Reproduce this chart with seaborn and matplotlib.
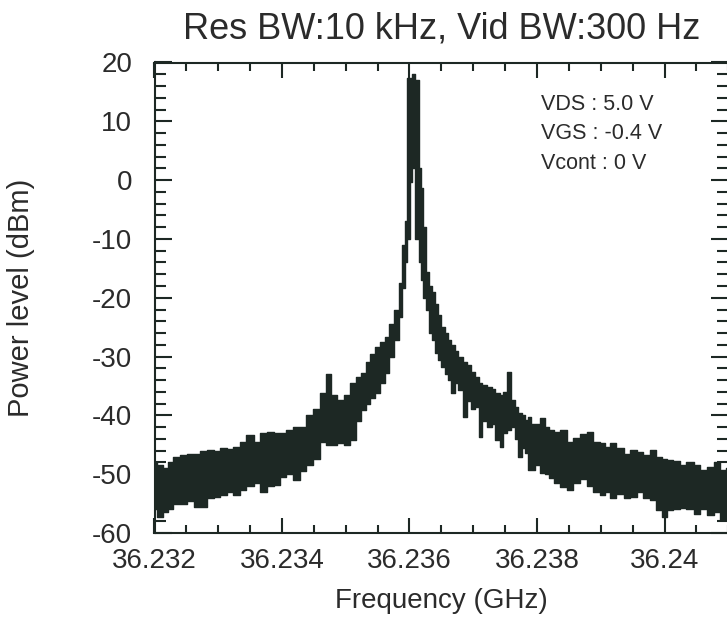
import matplotlib
matplotlib.use("Agg")
import matplotlib.pyplot as plt
import matplotlib.ticker as mticker
import seaborn as sns
import pandas as pd

# Spectrum trace:
# upper and lower edge of the noisy band at each sweep point
freq_ghz = [
    36.232000, 36.232086, 36.232165, 36.232243, 36.232353, 36.232447, 36.232557, 36.232667,
    36.232761, 36.232871, 36.232980, 36.233075, 36.233184, 36.233294, 36.233388, 36.233498,
    36.233608, 36.233702, 36.233812, 36.233922, 36.234016, 36.234125, 36.234235, 36.234329,
    36.234439, 36.234549, 36.234643, 36.234722, 36.234800, 36.234910, 36.235020, 36.235114,
    36.235192, 36.235271, 36.235349, 36.235427, 36.235490, 36.235569, 36.235647, 36.235725,
    36.235804, 36.235851, 36.235906, 36.235945, 36.235984, 36.236024, 36.236063, 36.236118,
    36.236165, 36.236196, 36.236235, 36.236275, 36.236322, 36.236369, 36.236431, 36.236478,
    36.236525, 36.236588, 36.236635, 36.236682, 36.236745, 36.236792, 36.236871, 36.236933,
    36.236996, 36.237059, 36.237106, 36.237184, 36.237263, 36.237310, 36.237373, 36.237451,
    36.237498, 36.237561, 36.237623, 36.237686, 36.237733, 36.237796, 36.237843, 36.237890,
    36.237937, 36.238000, 36.238094, 36.238157, 36.238204, 36.238314, 36.238408, 36.238518,
    36.238627, 36.238722, 36.238831, 36.238941, 36.239035, 36.239098, 36.239192, 36.239302,
    36.239412, 36.239506, 36.239616, 36.239725, 36.239820, 36.239929, 36.240008, 36.240086,
    36.240196, 36.240290, 36.240400, 36.240510, 36.240604, 36.240714, 36.240824, 36.240918,
    36.241000,
]
level_hi = [
    -48.0, -48.5, -49.0, -48.0, -47.0, -46.8, -46.5, -46.5,
    -46.0, -45.9, -46.0, -45.5, -45.8, -45.4, -44.5, -43.4,
    -44.5, -43.0, -42.8, -43.0, -43.0, -42.5, -42.0, -42.0,
    -40.0, -39.0, -36.2, -33.0, -36.5, -37.4, -36.5, -34.5,
    -33.5, -32.8, -31.0, -29.5, -28.4, -27.5, -26.7, -24.5,
    -22.1, -17.5, -11.0, -7.0, 17.4, 17.4, 18.0, 17.0,
    2.0, -1.4, -8.0, -15.6, -18.0, -19.0, -21.0, -23.0,
    -25.0, -26.0, -27.2, -28.0, -29.0, -30.0, -31.0, -31.5,
    -32.6, -33.5, -34.5, -34.8, -35.2, -35.5, -36.2, -36.5,
    -36.0, -32.7, -37.4, -38.5, -39.6, -40.0, -40.8, -40.3,
    -41.4, -41.5, -40.5, -42.0, -42.5, -42.8, -42.5, -44.5,
    -43.8, -43.2, -42.8, -44.5, -44.7, -45.4, -44.7, -45.6,
    -46.5, -45.9, -46.2, -46.8, -45.9, -47.0, -47.5, -47.6,
    -47.8, -48.5, -48.0, -48.5, -49.3, -48.8, -47.9, -49.3,
    -49.0,
]
level_lo = [
    -56.0, -57.3, -56.5, -56.0, -55.0, -55.0, -54.5, -55.5,
    -55.6, -54.0, -53.9, -53.5, -53.0, -53.5, -52.7, -52.0,
    -51.5, -53.0, -52.0, -51.8, -50.5, -50.0, -51.0, -49.5,
    -48.5, -47.5, -44.5, -45.0, -45.0, -44.7, -45.0, -44.2,
    -41.0, -39.1, -38.0, -37.0, -36.2, -34.5, -32.8, -30.0,
    -27.2, -23.3, -18.4, -14.0, -10.0, -0.3, 2.0, -10.0,
    -14.0, -17.0, -20.0, -22.0, -26.0, -27.2, -29.4, -30.5,
    -31.8, -33.0, -34.0, -36.2, -34.5, -35.7, -40.3, -37.5,
    -39.0, -38.5, -43.7, -41.0, -42.0, -41.5, -44.2, -45.4,
    -43.0, -42.5, -42.0, -44.0, -47.0, -45.5, -46.4, -49.3,
    -49.3, -48.5, -49.8, -50.0, -50.7, -51.5, -52.2, -52.7,
    -51.5, -50.9, -52.0, -53.0, -53.5, -53.0, -54.0, -53.3,
    -54.0, -53.8, -53.0, -54.0, -54.4, -56.1, -57.3, -56.1,
    -56.0, -55.8, -56.0, -56.7, -56.0, -57.0, -56.5, -57.8,
    -57.5,
]

x_ticks = [36.232, 36.234, 36.236, 36.238, 36.240]
x_tick_labels = ["36.232", "36.234", "36.236", "36.238", "36.24"]
y_ticks = [20, 10, 0, -10, -20, -30, -40, -50, -60]

bias_notes = ["VDS : 5.0 V", "VGS : -0.4 V", "Vcont : 0 V"]

sns.set_style("ticks")
plt.rcParams["font.family"] = ["Liberation Sans", "DejaVu Sans"]
plt.rcParams["axes.unicode_minus"] = False

trace = pd.DataFrame({"freq": freq_ghz, "hi": level_hi, "lo": level_lo})

ink = "#1d2824"
text_color = "#2b2b2b"

fig = plt.figure(figsize=(7.27, 6.25), dpi=100)
ax = fig.add_axes([154.5 / 727, 92 / 625, 573.75 / 727, 470.5 / 625])

# Filled noisy band plus its stepped edges
ax.fill_between(trace["freq"], trace["lo"], trace["hi"], step="mid", color=ink, linewidth=0)
sns.lineplot(data=trace, x="freq", y="hi", ax=ax, color=ink, linewidth=1, drawstyle="steps-mid")
sns.lineplot(data=trace, x="freq", y="lo", ax=ax, color=ink, linewidth=1, drawstyle="steps-mid")

ax.set_xlim(36.232, 36.241)
ax.set_ylim(-60, 20)

ax.xaxis.set_major_locator(mticker.FixedLocator(x_ticks))
ax.xaxis.set_major_formatter(mticker.FixedFormatter(x_tick_labels))
ax.xaxis.set_minor_locator(mticker.MultipleLocator(0.0005))
ax.yaxis.set_major_locator(mticker.FixedLocator(y_ticks))
ax.yaxis.set_minor_locator(mticker.MultipleLocator(2))

ax.tick_params(which="both", direction="in", top=True, right=True,
               color=ink, width=1.5, labelcolor=text_color)
ax.tick_params(axis="x", which="major", length=11, pad=11, labelsize=20)
ax.tick_params(axis="x", which="minor", length=5.5)
ax.tick_params(axis="y", which="major", length=12, pad=16, labelsize=20)
ax.tick_params(axis="y", which="minor", length=8)

for side in ax.spines.values():
    side.set_linewidth(1.5)
    side.set_color(ink)

ax.set_title("Res BW:10 kHz, Vid BW:300 Hz", fontsize=26, pad=17, color=text_color)
ax.set_xlabel("Frequency (GHz)", fontsize=20, color=text_color)
ax.set_ylabel("Power level (dBm)", fontsize=21, color=text_color)
ax.xaxis.set_label_coords(0.5, -0.117)
ax.yaxis.set_label_coords(-0.209, 0.5)

# Bias conditions in the upper right corner
for note, y in zip(bias_notes, [0.910, 0.850, 0.786]):
    ax.text(0.673, y, note, transform=ax.transAxes, fontsize=15.5,
            va="center", ha="left", color=text_color)

plt.savefig("out.png", dpi=100)
